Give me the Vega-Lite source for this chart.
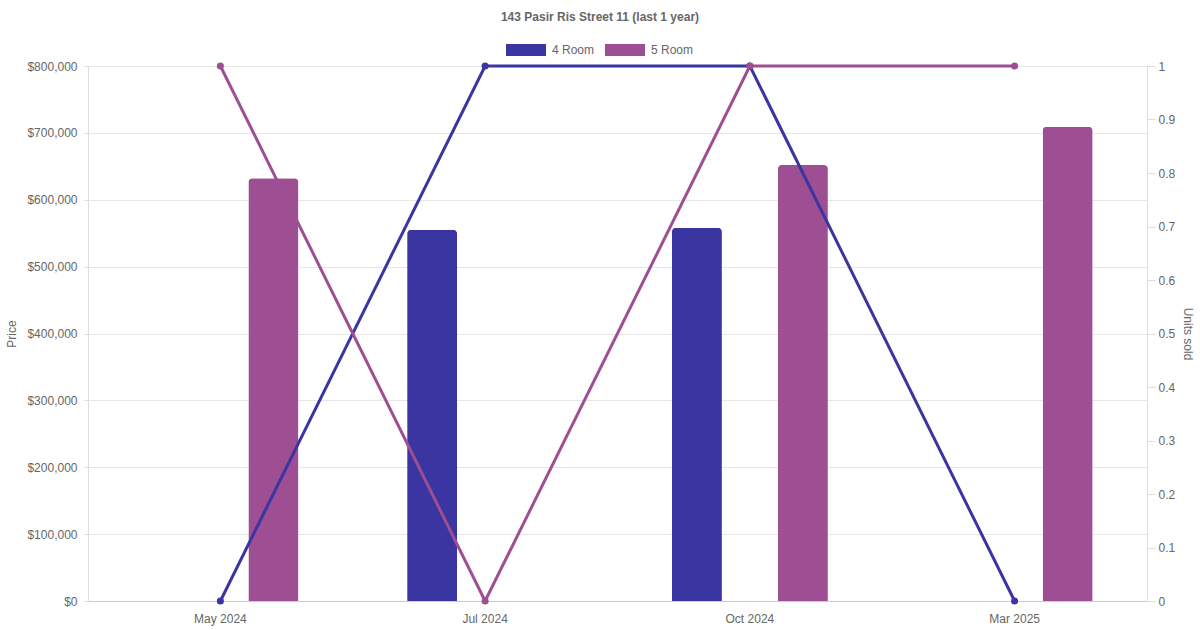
{
  "$schema": "https://vega.github.io/schema/vega-lite/v6.json",
  "width": 1059,
  "height": 535,
  "autosize": {"type": "none"},
  "padding": {"left": 88, "top": 66, "right": 53, "bottom": 29},
  "background": "white",
  "title": {
    "text": "143 Pasir Ris Street 11 (last 1 year)",
    "anchor": "middle",
    "frame": "group",
    "dx": -17.5,
    "offset": 6,
    "fontSize": 12,
    "fontWeight": "bold",
    "color": "#666666",
    "font": "Liberation Sans"
  },
  "config": {
    "font": "Liberation Sans",
    "view": {"stroke": null},
    "axis": {
      "labelFont": "Liberation Sans",
      "titleFont": "Liberation Sans",
      "labelColor": "#666666",
      "titleColor": "#666666",
      "labelFontSize": 12,
      "titleFontSize": 12,
      "titleFontWeight": "normal",
      "gridColor": "#e6e6e6",
      "domainColor": "#dddddd",
      "tickColor": "#dddddd"
    },
    "legend": {
      "labelFont": "Liberation Sans",
      "labelFontSize": 12,
      "labelColor": "#666666"
    }
  },
  "data": {
    "values": [
      {"month": "May 2024", "type": "4 Room", "price": null, "units": 0},
      {"month": "May 2024", "type": "5 Room", "price": 632000, "units": 1},
      {"month": "Jul 2024", "type": "4 Room", "price": 555000, "units": 1},
      {"month": "Jul 2024", "type": "5 Room", "price": null, "units": 0},
      {"month": "Oct 2024", "type": "4 Room", "price": 558000, "units": 1},
      {"month": "Oct 2024", "type": "5 Room", "price": 652000, "units": 1},
      {"month": "Mar 2025", "type": "4 Room", "price": null, "units": 0},
      {"month": "Mar 2025", "type": "5 Room", "price": 709000, "units": 1}
    ]
  },
  "encoding": {
    "x": {
      "field": "month",
      "type": "nominal",
      "sort": ["May 2024", "Jul 2024", "Oct 2024", "Mar 2025"],
      "scale": {"paddingInner": 0, "paddingOuter": 0},
      "axis": {
        "title": null,
        "labelAngle": 0,
        "ticks": false,
        "grid": false,
        "domain": true,
        "domainColor": "#cccccc",
        "labelPadding": 12
      }
    },
    "color": {
      "field": "type",
      "type": "nominal",
      "scale": {"domain": ["4 Room", "5 Room"], "range": ["#3a35a0", "#9e4f93"]}
    }
  },
  "layer": [
    {
      "mark": {"type": "bar", "cornerRadiusTopLeft": 4, "cornerRadiusTopRight": 4},
      "encoding": {
        "xOffset": {
          "field": "type",
          "type": "nominal",
          "scale": {"domain": ["4 Room", "5 Room"], "paddingInner": 0.528, "paddingOuter": 0.513}
        },
        "y": {
          "field": "price",
          "type": "quantitative",
          "scale": {"domain": [0, 800000], "nice": false},
          "axis": {
            "orient": "left",
            "title": "Price",
            "values": [0, 100000, 200000, 300000, 400000, 500000, 600000, 700000, 800000],
            "format": "$,.0f",
            "grid": true,
            "tickSize": 4,
            "labelPadding": 7,
            "titlePadding": 8
          }
        },
        "color": {
          "field": "type",
          "type": "nominal",
          "legend": {
            "title": null,
            "orient": "none",
            "direction": "horizontal",
            "legendX": 418,
            "legendY": -36,
            "padding": 0,
            "symbolType": "M-1,-0.3H1V0.3H-1Z",
            "symbolSize": 1600,
            "symbolStrokeWidth": 0,
            "labelOffset": 6,
            "columnPadding": 10
          }
        }
      }
    },
    {
      "mark": {"type": "line", "strokeWidth": 3, "point": {"filled": true, "size": 50}},
      "encoding": {
        "y": {
          "field": "units",
          "type": "quantitative",
          "scale": {"domain": [0, 1], "nice": false},
          "axis": {
            "orient": "right",
            "title": "Units sold",
            "values": [0, 0.1, 0.2, 0.3, 0.4, 0.5, 0.6, 0.7, 0.8, 0.9, 1],
            "format": ".1~f",
            "grid": false,
            "tickSize": 8,
            "labelPadding": 3,
            "titlePadding": 6
          }
        },
        "color": {"field": "type", "type": "nominal", "legend": null}
      }
    }
  ],
  "resolve": {"scale": {"y": "independent"}}
}
